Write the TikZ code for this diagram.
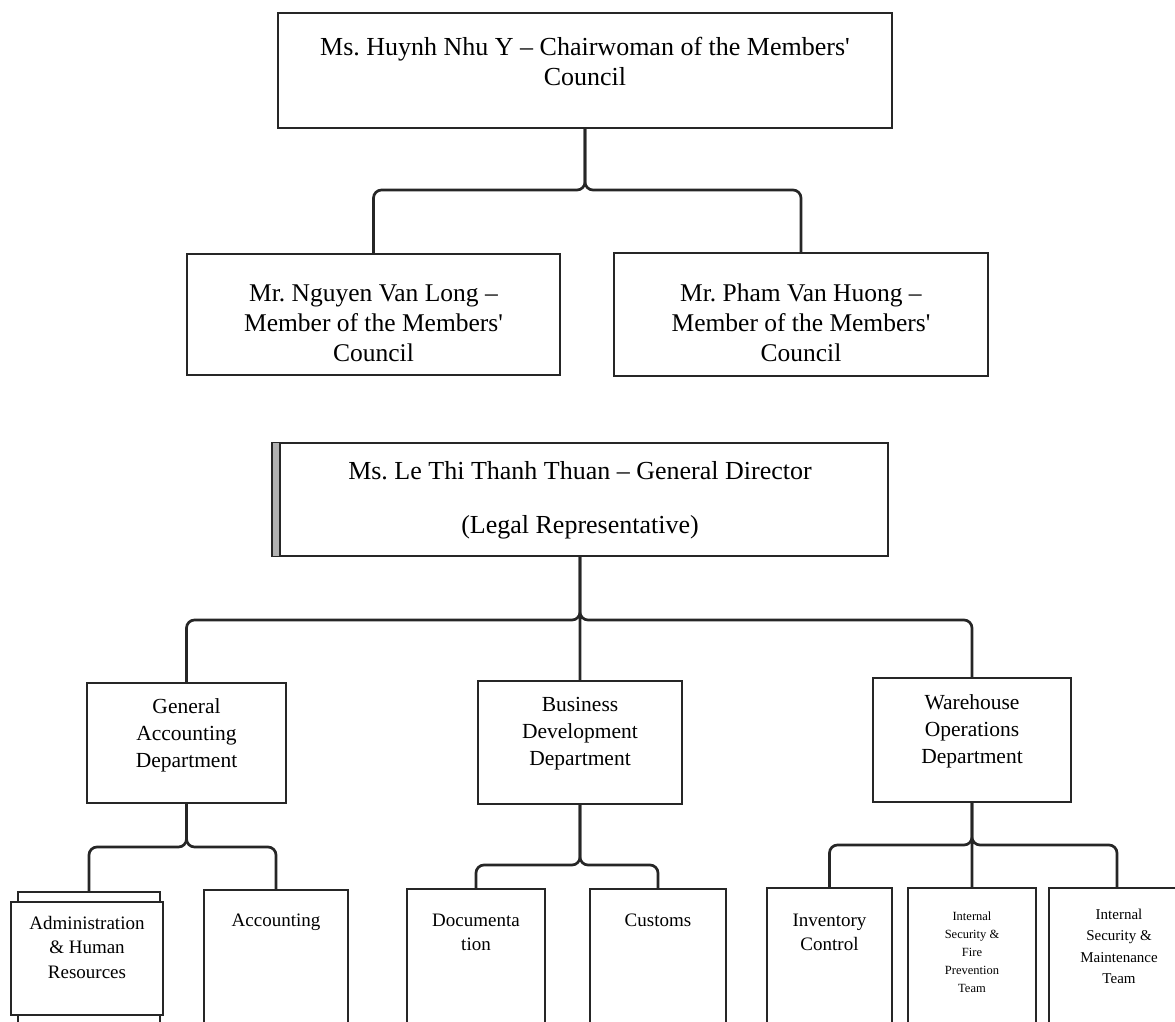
\documentclass[tikz,border=0pt]{standalone}
\usepackage{fontspec}
\setmainfont{Liberation Serif}[Ligatures=TeXOff]
\frenchspacing
\begin{document}
\begin{tikzpicture}[x=1pt,y=-1pt,
  box/.style={draw=black!85, line width=2.7pt, fill=white, inner sep=0pt, outer sep=0pt},
  conn/.style={draw=black!85, line width=2.7pt, rounded corners=8pt},
  tA/.style={font={\fontsize{26}{30}\selectfont}, align=center, inner sep=0pt},
  tM/.style={font={\fontsize{25.5}{30}\selectfont}, align=center, inner sep=0pt},
  tG/.style={font={\fontsize{26}{54}\selectfont}, align=center, inner sep=0pt},
  tD/.style={font={\fontsize{21.5}{27}\selectfont}, align=center, inner sep=0pt},
  tS/.style={font={\fontsize{19}{24.5}\selectfont}, align=center, inner sep=0pt},
  tF/.style={font={\fontsize{12.5}{18}\selectfont}, align=center, inner sep=0pt},
  tT/.style={font={\fontsize{15}{21.5}\selectfont}, align=center, inner sep=0pt}]
\useasboundingbox (0,0) rectangle (1175,1021);
\fill[white] (0,0) rectangle (1175,1021);

% brace levels
\coordinate (b1) at (0,190);
\coordinate (b2) at (0,620);
\coordinate (b3) at (0,847);
\coordinate (b4) at (0,865);
\coordinate (b5) at (0,845);

% top level
\node[box, minimum width=614, minimum height=115] (chair) at (585,70.5) {};
\node[tA] (chairtxt) at (585,61) {Ms. Huynh Nhu Y – Chairwoman of the Members'\\Council};

\node[box, minimum width=373, minimum height=121] (long) at (373.5,314.5) {};
\node[tM] (longtxt) at (373.5,323) {Mr. Nguyen Van Long –\\Member of the Members'\\Council};
\node[box, minimum width=374, minimum height=123] (huong) at (801,314.5) {};
\node[tM] (huongtxt) at (801,323) {Mr. Pham Van Huong –\\Member of the Members'\\Council};

\draw[conn] (long.north) |- (chair.south |- b1) -- (chair.south);
\draw[conn] (huong.north) |- (chair.south |- b1) -- (chair.south);

% general director
\node[box, minimum width=616, minimum height=113] (gd) at (580,499.5) {};
\fill[gray!60] ([xshift=1pt]gd.north west) rectangle ([xshift=8pt]gd.south west);
\draw[black!85, line width=1.2pt] ([xshift=8pt]gd.north west) -- ([xshift=8pt]gd.south west);
\node[tG] (gdtxt) at (580,500) {Ms. Le Thi Thanh Thuan – General Director\\(Legal Representative)};

% departments
\node[box, minimum width=199, minimum height=120] (ga) at (186.5,743) {};
\node[tD] (gatxt) at (186.5,735.5) {General\\Accounting\\Department};
\node[box, minimum width=204, minimum height=123] (bd) at (580,742.5) {};
\node[tD] (bdtxt) at (580,733.5) {Business\\Development\\Department};
\node[box, minimum width=198, minimum height=124] (wh) at (972,740) {};
\node[tD] (whtxt) at (972,731) {Warehouse\\Operations\\Department};

\draw[conn] (ga.north) |- (gd.south |- b2) -- (gd.south);
\draw[conn] (wh.north) |- (gd.south |- b2) -- (gd.south) (gd.south) -- (bd.north);

% sub units of general accounting
\node[box, minimum width=142, minimum height=138] (adminback) at (89,961) {};
\node[box, minimum width=152, minimum height=113] (admin) at (87,958.5) {};
\node[tS] (admintxt) at (87,947) {Administration\\\& Human\\Resources};
\node[box, minimum width=144, minimum height=140] (acct) at (276,960) {};
\node[tS] (accttxt) at (276,922) {Accounting};

\draw[conn] (adminback.north) |- (ga.south |- b3) -- (ga.south);
\draw[conn] (acct.north) |- (ga.south |- b3) -- (ga.south);

% sub units of business development
\node[box, minimum width=138, minimum height=141] (doc) at (476,959.5) {};
\node[tS] (doctxt) at (476,932.5) {Documenta\\tion};
\node[box, minimum width=136, minimum height=141] (cust) at (658,959.5) {};
\node[tS] (custtxt) at (658,920) {Customs};

\draw[conn] (doc.north) |- (bd.south |- b4) -- (bd.south);
\draw[conn] (cust.north) |- (bd.south |- b4) -- (bd.south);

% sub units of warehouse
\node[box, minimum width=125, minimum height=142] (inv) at (829.5,959) {};
\node[tS] (invtxt) at (829.5,932.5) {Inventory\\Control};
\node[box, minimum width=128, minimum height=142] (fire) at (972,959) {};
\node[tF] (firetxt) at (972,952) {Internal\\Security \&\\Fire\\Prevention\\Team};
\node[box, minimum width=136, minimum height=142] (maint) at (1117,959) {};
\node[tT] (mainttxt) at (1119,946.5) {Internal\\Security \&\\Maintenance\\Team};

\draw[conn] (inv.north) |- (wh.south |- b5) -- (wh.south);
\draw[conn] (maint.north) |- (wh.south |- b5) -- (wh.south) (wh.south) -- (fire.north);
\end{tikzpicture}
\end{document}
